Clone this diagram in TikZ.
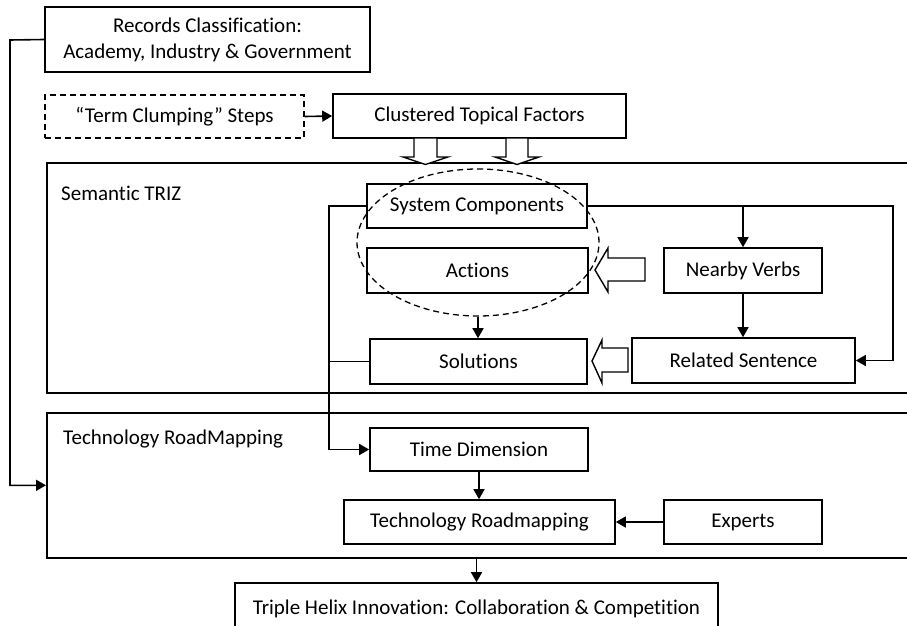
\documentclass[tikz,border=0pt]{standalone}
\usepackage{fontspec}
\setmainfont[Ligatures=NoCommon]{Carlito}
\usetikzlibrary{arrows.meta,shapes.geometric,calc}
\begin{document}
\begin{tikzpicture}[x=1pt,y=-1pt,
  txt/.style={font=\fontsize{21}{26}\selectfont},
  box/.style={draw, line width=1.6pt, inner sep=0pt, align=center, txt},
  dbox/.style={box, dash pattern=on 6pt off 4pt},
  frame/.style={draw, line width=1.6pt, inner sep=0pt, anchor=north west},
  lbl/.style={txt, anchor=base west, inner sep=0pt},
  conn/.style={line width=1.6pt, -{Triangle[length=10pt,width=11pt]}},
  link/.style={line width=1.6pt},
  hollow/.style={draw, fill=white, line width=1.4pt, line join=miter},
  group/.style={draw, ellipse, line width=1.3pt, dash pattern=on 6pt off 4pt, inner sep=0pt}
]
\useasboundingbox (0,0) rectangle (907,626);
\clip (0,0) rectangle (907,626);

% top inputs
\node[box, minimum width=325pt, minimum height=65pt] (rec) at (207.5,39.5)
  {Records Classification:\\Academy, Industry \& Government};
\node[dbox, minimum width=259pt, minimum height=43pt] (term) at (174.5,116.5) {“Term Clumping” Steps};
\node[box, minimum width=293pt, minimum height=44pt] (clus) at (479.5,116) {Clustered Topical Factors};

% frames
\node[frame, minimum width=880pt, minimum height=230pt] (triz) at (46,162) {};
\node[lbl] (trizlbl) at (61,200) {Semantic TRIZ};
\node[frame, minimum width=880pt, minimum height=145pt] (trm) at (46,412) {};
\node[lbl] (trmlbl) at (63,444) {Technology RoadMapping};

% Semantic TRIZ content
\node[box, minimum width=220pt, minimum height=44pt] (sc) at (477,206) {System Components};
\node[box, minimum width=221pt, minimum height=45pt] (act) at (477.5,270.5) {Actions};
\node[box, minimum width=217pt, minimum height=45pt] (sol) at (478.5,361.5) {Solutions};
\node[box, minimum width=158pt, minimum height=45pt] (nv) at (743,270.5) {Nearby Verbs};
\node[box, minimum width=223pt, minimum height=45pt] (rs) at (743.5,360.5) {Related Sentence};
\node[group, minimum width=242pt, minimum height=147pt] (grp) at (478,242.5) {};

% Technology RoadMapping content
\node[box, minimum width=218pt, minimum height=43pt] (td) at (479,449.5) {Time Dimension};
\node[box, minimum width=271pt, minimum height=44pt] (tr) at (479.5,522) {Technology Roadmapping};
\node[box, minimum width=158pt, minimum height=44pt] (exp) at (743,522) {Experts};

% outcome
\node[box, minimum width=483pt, minimum height=52pt] (th) at (476.5,609)
  {Triple Helix Innovation: Collaboration \& Competition};

% bus points
\coordinate (lbus) at (329,206);
\coordinate (rbus) at (893,206);
\coordinate (obus) at (10,40);

% connectors
\draw[conn] (rec.west) -- (obus) |- (trm.west);
\draw[conn] (term.east) -- (clus.west);
\draw[conn] (sc.west) -- (lbus) |- (td.west);
\draw[link] (sol.west) -- (sol.west -| lbus);
\draw[conn] (sc.east) -- (rbus) |- (rs.east);
\draw[conn] (nv.north |- sc.east) -- (nv.north);
\draw[conn] (nv.south) -- (nv.south |- rs.north);
\draw[conn] (grp.south) -- (grp.south |- sol.north);
\draw[conn] (td.south) -- (td.south |- tr.north);
\draw[conn] (exp.west) -- (tr.east);
\draw[conn] (th.north |- trm.south) -- (th.north);

% hollow block arrows
\draw[hollow] (414,138) -- (414,157) -- (403,157) -- (425.5,164.5) -- (448,157) -- (437,157) -- (437,138) -- cycle;
\draw[hollow] (506,138) -- (506,157) -- (495,157) -- (517,164.5) -- (539,157) -- (528,157) -- (528,138) -- cycle;
\draw[hollow] (645,258) -- (608,258) -- (608,248) -- (595,270) -- (608,292) -- (608,281) -- (645,281) -- cycle;
\draw[hollow] (628,348) -- (602,348) -- (602,340) -- (592,361) -- (602,383) -- (602,372) -- (628,372) -- cycle;
\end{tikzpicture}
\end{document}
